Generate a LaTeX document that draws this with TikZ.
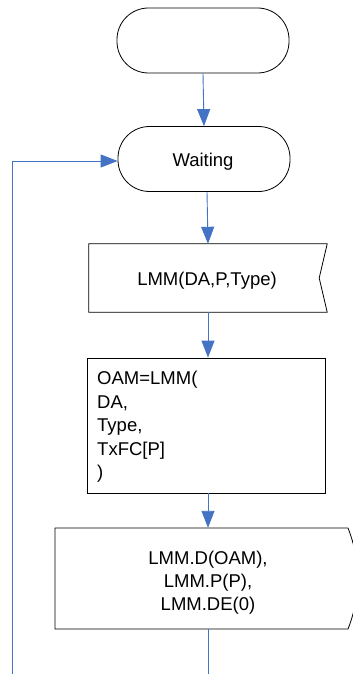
\documentclass[tikz,border=0pt]{standalone}
\usepackage{fontspec}
\setmainfont{Liberation Sans}
\usetikzlibrary{arrows.meta}
\definecolor{flowblue}{HTML}{4472C4}
\begin{document}
\begin{tikzpicture}[x=1pt,y=-1pt,
  blk/.style={draw=black,line width=0.8pt},
  term/.style={blk,rounded corners=31.5pt,minimum width=172pt,minimum height=65pt,inner sep=0pt},
  txt/.style={font=\fontsize{18.5}{23.5}\selectfont},
  flow/.style={draw=flowblue,line width=0.9pt,-{Triangle[length=17pt,width=13pt]}},
  plain/.style={draw=flowblue,line width=0.9pt}]
\useasboundingbox (0,0) rectangle (353,674);
\clip (0,0) rectangle (353,674);
\fill[white] (0,0) rectangle (353,674);
% terminators
\node[term] (start) at (203,40.5) {};
\node[term] (wait) at (204,159) {};
\node[txt,inner sep=0pt] (waittxt) at (203,162) {Waiting};
% LMM box (notched right edge)
\node[minimum width=238pt,minimum height=68pt,inner sep=0pt] (lmm) at (208,278) {};
\node[txt,inner sep=0pt] (lmmtxt) at (207,281) {LMM(DA,P,Type)};
\draw[blk] (lmm.north west) -- (lmm.north east) -- ([xshift=-8pt]lmm.east) -- (lmm.south east) -- (lmm.south west) -- cycle;
% OAM box
\node[blk,minimum width=238pt,minimum height=135pt,inner sep=0pt] (oam) at (206,425.5) {};
\node[txt,align=left,anchor=north west,inner sep=0pt] (oamtxt) at (97,371) {OAM=LMM(\\DA,\\Type,\\TxFC[P]\\)};
% bottom box with curved right edge
\node[minimum width=300pt,minimum height=101pt,inner sep=0pt] (lmmd) at (208,578.5) {};
\node[txt,align=center,inner sep=0pt,font=\fontsize{18.5}{23}\selectfont] (lmmdtxt) at (208,583) {LMM.D(OAM),\\LMM.P(P),\\LMM.DE(0)};
\draw[blk] (348,528) -- (55,528) -- (55,629) -- (348,629) .. controls (361,596) and (361,561) .. (348,528);
% connectors
\coordinate (bottomA) at (208,674);
\coordinate (bottomB) at (12,674);
\coordinate (corner) at (12,161);
\draw[flow] (start.south) -- (wait.north);
\draw[flow] ([xshift=3pt]wait.south) -- (lmm.north);
\draw[flow] (lmm.south) -- (lmm.south |- oam.north);
\draw[flow] (oam.south -| lmm.south) -- (lmmd.north);
\draw[plain] (lmmd.south) -- (bottomA);
\draw[flow] (bottomB) -- (corner) -- (wait.west |- corner);
\end{tikzpicture}
\end{document}
